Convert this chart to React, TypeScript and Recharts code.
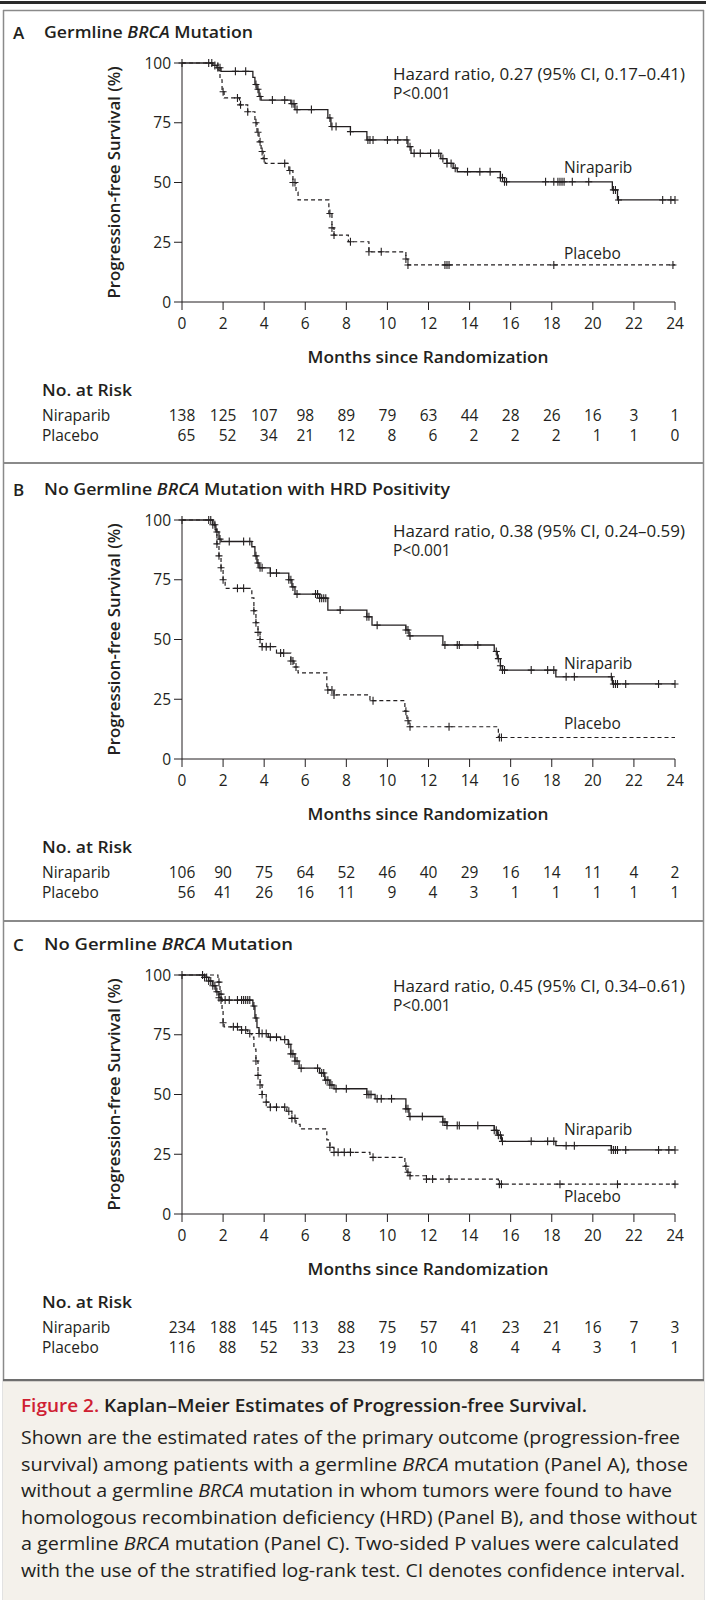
import { ComposedChart, Line, Scatter, XAxis, YAxis } from "recharts";

const months = [0, 2, 4, 6, 8, 10, 12, 14, 16, 18, 20, 22, 24];
const survivalTicks = [0, 25, 50, 75, 100];

// numbers at risk, one per month tick
const riskANir = [138, 125, 107, 98, 89, 79, 63, 44, 28, 26, 16, 3, 1];
const riskAPla = [65, 52, 34, 21, 12, 8, 6, 2, 2, 2, 1, 1, 0];
const riskBNir = [106, 90, 75, 64, 52, 46, 40, 29, 16, 14, 11, 4, 2];
const riskBPla = [56, 41, 26, 16, 11, 9, 4, 3, 1, 1, 1, 1, 1];
const riskCNir = [234, 188, 145, 113, 88, 75, 57, 41, 23, 21, 16, 7, 3];
const riskCPla = [116, 88, 52, 33, 23, 19, 10, 8, 4, 4, 3, 1, 1];

// Kaplan-Meier steps: [month, % progression-free]
const stepsANir: [number, number][] = [
  [0, 100], [1.5, 99], [1.7, 98], [1.9, 96.5], [3.45, 94], [3.55, 91], [3.65, 89], [3.75, 86],
  [3.85, 84.5], [5.3, 83], [5.5, 80.5], [7.1, 77], [7.25, 73.4], [8.2, 71.3], [9.0, 67.8],
  [11.0, 65], [11.15, 62.2], [12.6, 60], [12.9, 58], [13.2, 56], [13.4, 54.5], [15.5, 52],
  [15.7, 50.3], [20.95, 46.9], [21.2, 42.7], [24, 42.7],
];
const stepsAPla: [number, number][] = [
  [0, 100], [1.75, 97], [1.85, 93], [1.95, 88], [2.05, 85.4], [2.8, 82.5], [3.2, 79.6],
  [3.55, 75], [3.65, 71], [3.75, 67], [3.85, 63], [3.95, 60], [4.05, 58], [5.2, 55], [5.4, 50],
  [5.55, 46], [5.65, 42.7], [7.15, 37], [7.3, 31], [7.4, 28], [8.1, 25.2], [9.1, 21],
  [10.9, 18], [11.0, 15.5], [24, 15.5],
];
const stepsBNir: [number, number][] = [
  [0, 100], [1.5, 98], [1.65, 95], [1.8, 92], [1.9, 91], [3.4, 88.8], [3.55, 85], [3.65, 82],
  [3.75, 80], [4.3, 77.8], [5.2, 75], [5.35, 72], [5.5, 69], [6.7, 67.3], [7.1, 62.3],
  [9.0, 59.5], [9.25, 56], [10.9, 54], [11.05, 51.5], [12.7, 47.7], [15.2, 45], [15.35, 42],
  [15.5, 39], [15.6, 37.2], [18.2, 34.4], [20.95, 31.4], [24, 31.4],
];
const stepsBPla: [number, number][] = [
  [0, 100], [1.6, 96], [1.7, 90], [1.8, 85], [1.9, 80], [2.0, 75], [2.1, 71.4], [3.4, 67.4],
  [3.5, 62], [3.6, 57], [3.7, 53], [3.8, 50], [3.9, 47], [4.6, 44.3], [5.3, 41], [5.45, 38.5],
  [5.65, 36], [7.05, 28.9], [7.4, 26.8], [9.15, 24.4], [10.85, 20], [10.95, 16], [11.05, 13.5],
  [15.4, 9], [24, 9],
];
const stepsCNir: [number, number][] = [
  [0, 100], [1.1, 99], [1.3, 97.5], [1.5, 95.5], [1.65, 93], [1.8, 90.5], [1.9, 89.5],
  [3.45, 87], [3.55, 82], [3.65, 78], [3.75, 75.5], [4.2, 74], [4.8, 73], [5.17, 71], [5.3, 67],
  [5.5, 64], [5.7, 61], [6.7, 59], [6.95, 56], [7.2, 54], [7.4, 52.4], [9.0, 50], [9.4, 48.2],
  [10.9, 44], [11.05, 40.8], [12.7, 38.5], [12.9, 37], [15.2, 35], [15.35, 33], [15.55, 30.4],
  [18.2, 28.6], [20.9, 26.8], [24, 26.8],
];
const stepsCPla: [number, number][] = [
  [0, 100], [1.75, 97], [1.85, 92], [1.95, 85], [2.0, 80], [2.05, 78.3], [2.8, 77], [3.2, 75.5],
  [3.4, 74], [3.5, 69], [3.6, 64], [3.7, 58], [3.8, 54], [3.9, 50], [4.1, 46.8], [4.3, 44.7],
  [5.1, 43], [5.35, 40], [5.55, 37.5], [5.75, 35.6], [7.05, 31], [7.2, 27.9], [7.4, 25.8],
  [9.15, 23.7], [10.85, 20], [10.95, 17.5], [11.1, 16], [11.9, 14.6], [15.4, 12.5], [24, 12.5],
];

// censoring times (months)
const censorANir = [
  0, 1.3, 1.45, 1.6, 1.75, 1.85, 2.6, 3.1, 3.6, 3.7, 3.8, 4.4, 5.0, 5.35, 5.45, 5.6, 6.3, 7.2,
  7.3, 7.5, 8.2, 9.05, 9.15, 9.3, 10.0, 10.5, 10.95, 11.1, 11.3, 11.6, 12.1, 12.5, 12.7, 12.9,
  13.1, 13.3, 13.9, 14.5, 15.0, 15.5, 15.6, 15.7, 15.8, 17.7, 18.1, 18.3, 18.4, 18.5, 18.6,
  19.0, 19.8, 21.0, 21.1, 21.25, 23.4, 23.8, 24,
];
const censorAPla = [
  2.0, 2.7, 2.85, 3.2, 3.6, 3.7, 3.8, 3.9, 4.0, 5.0, 5.25, 5.4, 5.5, 7.2, 7.3, 7.4, 8.2, 9.1,
  9.7, 10.9, 11.0, 12.8, 12.9, 13.0, 18.1, 23.9,
];
const censorBNir = [
  0, 1.3, 1.4, 1.5, 1.6, 1.7, 1.85, 2.3, 3.0, 3.3, 3.6, 3.7, 3.8, 3.9, 4.3, 4.6, 5.2, 5.3,
  5.4, 5.6, 6.5, 6.6, 6.7, 6.8, 6.9, 7.0, 7.7, 9.0, 9.1, 9.5, 10.9, 11.0, 11.1, 12.8, 13.4,
  13.5, 14.4, 15.3, 15.4, 15.5, 15.6, 15.7, 17.0, 17.8, 18.1, 18.7, 19.1, 20.9, 21.0, 21.1,
  21.2, 21.6, 23.2, 24.0,
];
const censorBPla = [
  1.7, 1.8, 1.9, 2.0, 2.7, 3.0, 3.5, 3.6, 3.7, 3.8, 3.9, 4.1, 4.3, 4.8, 4.95, 5.3, 5.4, 5.55,
  7.1, 7.3, 7.4, 9.3, 10.9, 11.0, 11.1, 13.0, 15.45, 15.55,
];
const censorCNir = [
  0, 1.0, 1.1, 1.2, 1.3, 1.4, 1.5, 1.6, 1.7, 1.8, 1.9, 2.1, 2.3, 2.7, 2.9, 3.0, 3.1, 3.2, 3.3,
  3.5, 3.6, 3.75, 3.9, 4.1, 4.3, 4.6, 5.0, 5.2, 5.3, 5.4, 5.5, 5.6, 5.8, 6.6, 6.8, 6.9, 7.0,
  7.1, 7.2, 7.3, 7.5, 8.0, 9.0, 9.1, 9.2, 9.5, 9.7, 10.2, 10.9, 11.0, 11.1, 11.7, 12.7, 12.8,
  12.9, 13.4, 13.5, 14.4, 15.2, 15.3, 15.4, 15.5, 15.6, 17.0, 17.8, 18.1, 18.7, 19.1, 20.9,
  21.0, 21.1, 21.2, 21.6, 23.2, 23.7, 24.0,
];
const censorCPla = [
  1.8, 1.9, 2.0, 2.5, 2.7, 2.9, 3.1, 3.3, 3.6, 3.7, 3.8, 3.9, 4.1, 4.3, 4.6, 5.0, 5.2, 5.35,
  5.5, 7.2, 7.4, 7.6, 7.9, 8.2, 9.3, 10.9, 11.0, 11.1, 11.9, 12.2, 13.0, 15.45, 15.55, 18.4,
  21.2, 24.0,
];

const FONT = '"Open Sans", sans-serif';
const INK = "#231f20";
const W = 706;
const H = 445;

function toPoints(steps: [number, number][]) {
  return steps.map(([t, s]) => ({ t, s }));
}

// survival value of a step curve at time t (used to sit censor marks on the curve)
function valueAt(steps: [number, number][], t: number) {
  let s = steps[0][1];
  for (const [ti, si] of steps) if (ti <= t) s = si;
  return s;
}

function censorPoints(steps: [number, number][], times: number[]) {
  return times.map((t) => ({ t, s: valueAt(steps, t) }));
}

function Cross(props: any) {
  const { cx, cy } = props;
  if (cx == null || cy == null) return null;
  return (
    <path
      d={`M${cx - 3.5},${cy}H${cx + 3.5}M${cx},${cy - 4}V${cy + 4}`}
      stroke={INK}
      strokeWidth={1.1}
      fill="none"
    />
  );
}

function makeTick(riskNir: number[], riskPla: number[]) {
  return (props: any) => {
    const { x, y, payload } = props;
    const i = months.indexOf(payload.value);
    const w = Math.max(String(riskNir[i]).length, String(riskPla[i]).length);
    const right = x + w * 4.45;
    const style = { fontFamily: FONT, fontSize: 15.5, fill: INK };
    return (
      <g>
        <text x={x} y={y + 13} textAnchor="middle" dominantBaseline="central" style={style}>
          {payload.value}
        </text>
        <text x={right} y={y + 105} textAnchor="end" dominantBaseline="central" style={style}>
          {riskNir[i]}
        </text>
        <text x={right} y={y + 125} textAnchor="end" dominantBaseline="central" style={style}>
          {riskPla[i]}
        </text>
      </g>
    );
  };
}

type PanelProps = {
  top: number;
  letter: string;
  titleBefore: string;
  titleAfter: string;
  titleLen: number;
  hr: string;
  nir: [number, number][];
  pla: [number, number][];
  cNir: number[];
  cPla: number[];
  riskNir: number[];
  riskPla: number[];
  nirLabelY: number;
  plaLabelY: number;
};

function Panel(p: PanelProps) {
  const txt = { fontFamily: FONT, fill: INK };
  return (
    <div style={{ position: "absolute", left: 0, top: p.top, width: W, height: H }}>
      <ComposedChart width={W} height={H} margin={{ top: 55, right: 31, bottom: 121, left: 122 }}>
        <XAxis
          type="number"
          dataKey="t"
          domain={[0, 24]}
          ticks={months}
          interval={0}
          tickSize={8}
          tickMargin={0}
          height={30}
          stroke={INK}
          tick={makeTick(p.riskNir, p.riskPla)}
        />
        <YAxis
          type="number"
          dataKey="s"
          domain={[0, 100]}
          ticks={survivalTicks}
          interval={0}
          tickSize={8}
          tickMargin={3}
          width={60}
          stroke={INK}
          tick={{ fill: INK, fontSize: 15.5, fontFamily: FONT }}
        />
        <Line
          data={toPoints(p.pla)}
          dataKey="s"
          type="stepAfter"
          dot={false}
          stroke={INK}
          strokeWidth={1.2}
          strokeDasharray="4 3"
          isAnimationActive={false}
        />
        <Line
          data={toPoints(p.nir)}
          dataKey="s"
          type="stepAfter"
          dot={false}
          stroke={INK}
          strokeWidth={1.3}
          isAnimationActive={false}
        />
        <Scatter data={censorPoints(p.pla, p.cPla)} dataKey="s" shape={<Cross />} isAnimationActive={false} />
        <Scatter data={censorPoints(p.nir, p.cNir)} dataKey="s" shape={<Cross />} isAnimationActive={false} />
      </ComposedChart>
      <svg width={W} height={H} style={{ position: "absolute", left: 0, top: 0, pointerEvents: "none" }}>
        <g style={txt}>
          <text x={13} y={24} fontSize={17} fontWeight={600} dominantBaseline="central">
            {p.letter}
          </text>
          <text x={44} y={24} fontSize={16} fontWeight={600} dominantBaseline="central" textLength={p.titleLen} lengthAdjust="spacingAndGlyphs">
            {p.titleBefore}
            <tspan fontStyle="italic">BRCA</tspan>
            {p.titleAfter}
          </text>
          <text x={393} y={66} fontSize={15.5} dominantBaseline="central" textLength={292} lengthAdjust="spacingAndGlyphs">
            {p.hr}
          </text>
          <text x={393} y={85} fontSize={15.5} dominantBaseline="central">
            P&lt;0.001
          </text>
          <text x={564} y={p.nirLabelY} fontSize={15.5} dominantBaseline="central">
            Niraparib
          </text>
          <text x={564} y={p.plaLabelY} fontSize={15.5} dominantBaseline="central">
            Placebo
          </text>
          <text
            x={114}
            y={174.5}
            fontSize={15.5}
            fontWeight={600}
            textAnchor="middle"
            dominantBaseline="central"
            transform="rotate(-90 114 174.5)"
            textLength={232}
            lengthAdjust="spacingAndGlyphs"
          >
            Progression-free Survival (%)
          </text>
          <text x={428} y={349} fontSize={16} fontWeight={600} textAnchor="middle" dominantBaseline="central" textLength={241} lengthAdjust="spacingAndGlyphs">
            Months since Randomization
          </text>
          <text x={42} y={382} fontSize={16} fontWeight={600} dominantBaseline="central" textLength={90} lengthAdjust="spacingAndGlyphs">
            No. at Risk
          </text>
          <text x={42} y={407} fontSize={15.5} dominantBaseline="central">
            Niraparib
          </text>
          <text x={42} y={427} fontSize={15.5} dominantBaseline="central">
            Placebo
          </text>
        </g>
      </svg>
    </div>
  );
}

const captionLines: { parts: [string, boolean][]; len: number }[] = [
  { parts: [["Shown are the estimated rates of the primary outcome (progression-free", false]], len: 659 },
  {
    parts: [
      ["survival) among patients with a germline ", false],
      ["BRCA", true],
      [" mutation (Panel A), those", false],
    ],
    len: 667,
  },
  {
    parts: [
      ["without a germline ", false],
      ["BRCA", true],
      [" mutation in whom tumors were found to have", false],
    ],
    len: 651,
  },
  { parts: [["homologous recombination deficiency (HRD) (Panel B), and those without", false]], len: 676 },
  {
    parts: [
      ["a germline ", false],
      ["BRCA", true],
      [" mutation (Panel C). Two-sided P values were calculated", false],
    ],
    len: 658,
  },
  { parts: [["with the use of the stratified log-rank test. CI denotes confidence interval.", false]], len: 664 },
];

function Caption() {
  return (
    <svg width={W} height={221} style={{ position: "absolute", left: 0, top: 1379 }}>
      <rect x={3} y={0} width={701} height={221} fill="#f4f1eb" />
      <line x1={3} y1={1} x2={704} y2={1} stroke="#6e6e6e" strokeWidth={2.5} />
      <text
        x={21}
        y={26}
        fontFamily={FONT}
        fontSize={17.5}
        fontWeight={600}
        dominantBaseline="central"
        textLength={566}
        lengthAdjust="spacingAndGlyphs"
      >
        <tspan fill="#cf2032">Figure 2.</tspan>
        <tspan fill={INK}> Kaplan–Meier Estimates of Progression-free Survival.</tspan>
      </text>
      {captionLines.map((line, i) => (
        <text
          key={i}
          x={21}
          y={58 + i * 26.6}
          fontFamily={FONT}
          fontSize={17.5}
          fill={INK}
          dominantBaseline="central"
          textLength={line.len}
          lengthAdjust="spacingAndGlyphs"
        >
          {line.parts.map(([s, it], j) => (
            <tspan key={j} fontStyle={it ? "italic" : "normal"}>
              {s}
            </tspan>
          ))}
        </text>
      ))}
    </svg>
  );
}

export default function App() {
  return (
    <div style={{ position: "absolute", left: 0, top: 0, width: W, height: 1600, background: "#fff" }}>
      <svg width={W} height={1600} style={{ position: "absolute", left: 0, top: 0 }}>
        <line x1={0} y1={2.5} x2={W} y2={2.5} stroke="#2b2b2b" strokeWidth={3} />
        <line x1={3} y1={10.5} x2={704} y2={10.5} stroke="#8a8a8a" strokeWidth={1.5} />
        <line x1={3.5} y1={10} x2={3.5} y2={1600} stroke="#8a8a8a" strokeWidth={1.5} />
        <line x1={703.5} y1={10} x2={703.5} y2={1600} stroke="#8a8a8a" strokeWidth={1.5} />
        <line x1={3} y1={463} x2={704} y2={463} stroke="#8a8a8a" strokeWidth={2} />
        <line x1={3} y1={921} x2={704} y2={921} stroke="#8a8a8a" strokeWidth={2} />
      </svg>
      <Panel
        top={8}
        letter="A"
        titleBefore="Germline "
        titleAfter=" Mutation"
        titleLen={209}
        hr="Hazard ratio, 0.27 (95% CI, 0.17–0.41)"
        nir={stepsANir}
        pla={stepsAPla}
        cNir={censorANir}
        cPla={censorAPla}
        riskNir={riskANir}
        riskPla={riskAPla}
        nirLabelY={159}
        plaLabelY={245}
      />
      <Panel
        top={465}
        letter="B"
        titleBefore="No Germline "
        titleAfter=" Mutation with HRD Positivity"
        titleLen={406}
        hr="Hazard ratio, 0.38 (95% CI, 0.24–0.59)"
        nir={stepsBNir}
        pla={stepsBPla}
        cNir={censorBNir}
        cPla={censorBPla}
        riskNir={riskBNir}
        riskPla={riskBPla}
        nirLabelY={198}
        plaLabelY={258}
      />
      <Panel
        top={920}
        letter="C"
        titleBefore="No Germline "
        titleAfter=" Mutation"
        titleLen={249}
        hr="Hazard ratio, 0.45 (95% CI, 0.34–0.61)"
        nir={stepsCNir}
        pla={stepsCPla}
        cNir={censorCNir}
        cPla={censorCPla}
        riskNir={riskCNir}
        riskPla={riskCPla}
        nirLabelY={209}
        plaLabelY={276}
      />
      <Caption />
    </div>
  );
}
